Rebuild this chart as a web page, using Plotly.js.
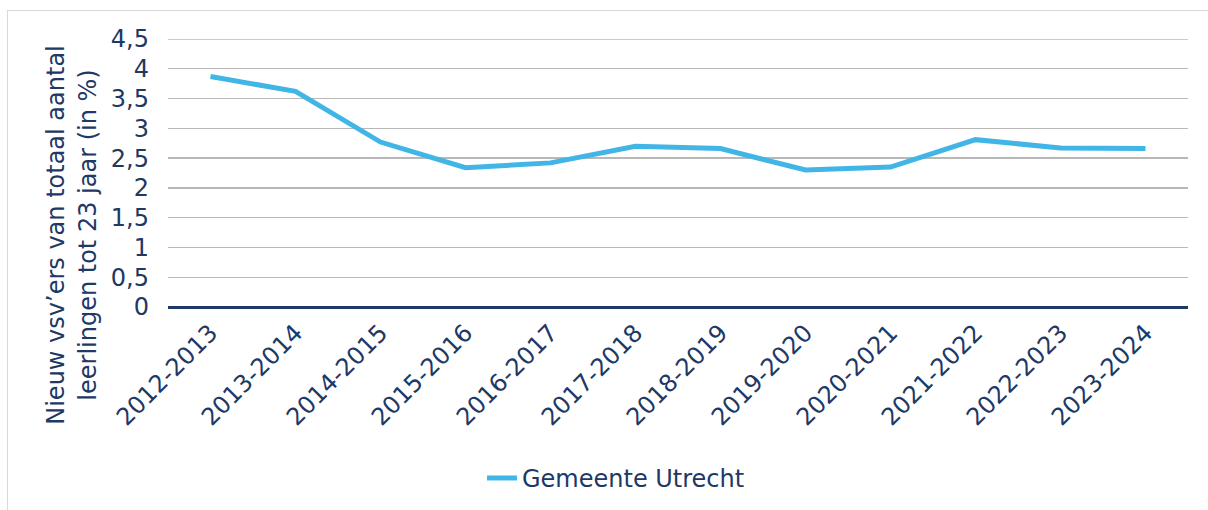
<!DOCTYPE html>
<html>
<head>
<meta charset="utf-8">
<script src="https://cdn.plot.ly/plotly-3.0.1.min.js"></script>
<style>
  html, body { margin: 0; padding: 0; background: #fff; }
  #frame { position: absolute; left: 7px; top: 10px; width: 1220px; height: 520px;
           border-left: 1px solid #d9d9d9; border-top: 1px solid #d9d9d9; }
  #chart { position: absolute; left: 0; top: 0; width: 1208px; height: 510px; }
</style>
</head>
<body>
<div id="frame"></div>
<div id="chart"></div>
<script>
const categories = ["2012-2013","2013-2014","2014-2015","2015-2016","2016-2017","2017-2018",
                    "2018-2019","2019-2020","2020-2021","2021-2022","2022-2023","2023-2024"];
const utrecht = [3.87, 3.62, 2.77, 2.34, 2.42, 2.70, 2.66, 2.30, 2.35, 2.81, 2.67, 2.66];
const seriesName = "Gemeente Utrecht";
const yTitleLines = ["Nieuw vsv’ers van totaal aantal", "leerlingen tot 23 jaar (in %)"];

const navy = "#203864";
const font = {family: "DejaVu Sans, Verdana, sans-serif", size: 24, color: navy};

const trace = {
  x: categories, y: utrecht, type: "scatter", mode: "lines", name: seriesName,
  line: {color: "#41b6e6", width: 5}
};

const layout = {
  width: 1208, height: 510,
  margin: {l: 168, r: 20, t: 39, b: 203},
  paper_bgcolor: "rgba(0,0,0,0)", plot_bgcolor: "rgba(0,0,0,0)",
  separators: ", ",
  font: font,
  showlegend: true,
  legend: {orientation: "h", xref: "container", yref: "container",
           x: 0.399, xanchor: "left", y: 0.062, yanchor: "middle",
           font: font, bgcolor: "rgba(0,0,0,0)"},
  xaxis: {type: "category", range: [-0.5, 11.5], tickangle: -45, showgrid: false, zeroline: false,
          showline: false, ticks: "", ticklabelstandoff: 6, tickfont: font, fixedrange: true,
          automargin: false},
  yaxis: {range: [0, 4.5], dtick: 0.5, tick0: 0, showgrid: true, gridcolor: "#b8b8b8", gridwidth: 1.3,
          zeroline: true, zerolinecolor: navy, zerolinewidth: 3, showline: false,
          ticks: "", ticklabelstandoff: 18, tickfont: font, fixedrange: true, automargin: false},
  shapes: [{
    type: "line", xref: "paper", yref: "y", x0: 0, x1: 1, y0: 4.5, y1: 4.5,
    line: {color: "#b8b8b8", width: 1.3}, layer: "below"
  }],
  annotations: [{
    xref: "paper", yref: "paper", x: -0.094, y: 0.27, xanchor: "center", yanchor: "middle",
    text: yTitleLines.join("<br>"), textangle: -90, showarrow: false, font: font
  }]
};

Plotly.newPlot("chart", [trace], layout, {displayModeBar: false, staticPlot: true});
</script>
</body>
</html>
